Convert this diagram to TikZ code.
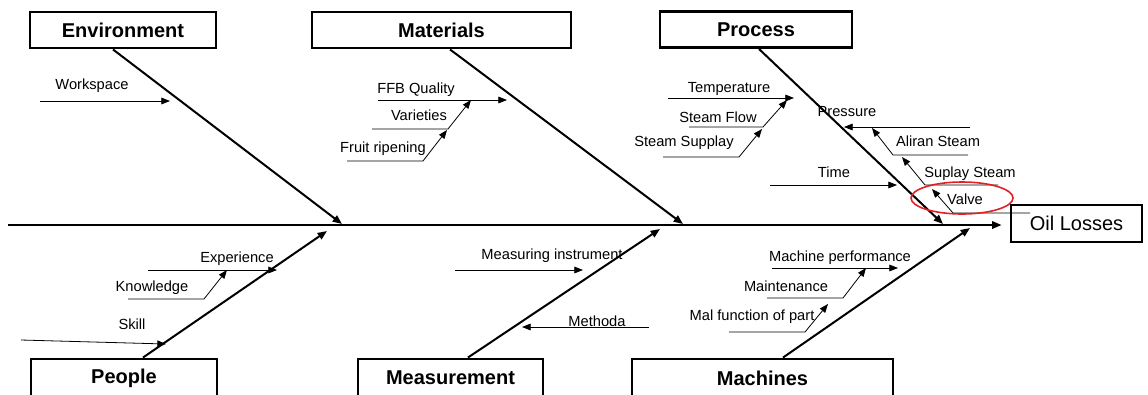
\documentclass[tikz,border=0pt]{standalone}
\usepackage{fontspec}
\setmainfont{Liberation Sans}
\usetikzlibrary{arrows.meta,shapes.geometric}
\definecolor{ringred}{RGB}{228,30,36}

\begin{document}
\begin{tikzpicture}[x=0.75pt, y=-0.75pt,
    head/.style = {draw, line width=2.2pt, inner sep=0pt, minimum height=27pt, font=\fontsize{15}{18}\selectfont\bfseries},
    cause/.style = {inner sep=0pt, anchor=base, font=\fontsize{11}{13}\selectfont},
    bone/.style = {line width=1.5pt, -{Triangle[length=7pt,width=5.5pt]}},
    twig/.style = {line width=0.6pt, -{Triangle[length=6.5pt,width=5pt]}}]
\useasboundingbox (0,0) rectangle (1148,394);

% category boxes
\node[head, minimum width=139.5pt] (env) at (123,30) {Environment};
\node[head, minimum width=194.25pt] (mat) at (441.5,30) {Materials};
\node[head, minimum width=144pt] (proc) at (756,29.5) {Process};
\node[head, minimum width=139.5pt, minimum height=28.5pt] (ppl) at (124,378) {People};
\node[head, minimum width=138.75pt, minimum height=28.5pt] (meas) at (450.5,378) {Measurement};
\node[head, minimum width=195.75pt, minimum height=28.5pt] (mach) at (762.5,378) {Machines};
\node[draw, line width=2.2pt, inner sep=0pt, minimum width=98.25pt, minimum height=27.75pt,
      font=\fontsize{15}{18}\selectfont] (oil) at (1076.5,223.5) {Oil Losses};

% spine
\coordinate (s0) at (8,225);
\draw[bone, shorten >=6pt] (s0) -- (s0 -| oil.west);

% main bones
\coordinate (e1) at (342,224);
\coordinate (m1) at (683,224);
\coordinate (p1) at (943,224);
\coordinate (pp1) at (327,231);
\coordinate (ms1) at (660,229);
\coordinate (mc1) at (970,228);
\draw[bone] ([xshift=-7.5pt]env.south) -- (e1);
\draw[bone] ([xshift=6.4pt]mat.south) -- (m1);
\draw[bone] ([xshift=2.25pt]proc.south) -- (p1);
\draw[bone] ([xshift=14.25pt]ppl.north) -- (pp1);
\draw[bone] ([xshift=13.1pt]meas.north) -- (ms1);
\draw[bone] ([xshift=15.4pt]mach.north) -- (mc1);

% Environment
\node[cause] (ws) at (92,89) {Workspace};
\draw[twig] (40,101) coordinate (ws0) -- (170,101) coordinate (ws1);

% Materials
\node[cause] (ffb) at (416,93) {FFB Quality};
\node[cause] (var) at (419,120) {Varieties};
\node[cause] (fr) at (383,152) {Fruit ripening};
\draw[twig] (378,100) coordinate (ffb0) -- (507,100) coordinate (ffb1);
\draw[twig] (372,129) coordinate (var0) -- (448,129) -- (471,100) coordinate (var1);
\draw[twig] (347,161) coordinate (fr0) -- (423,161) -- (447,130) coordinate (fr1);

% Process
\node[cause] (tmp) at (729,92) {Temperature};
\node[cause] (sf) at (718,122) {Steam Flow};
\node[cause] (ss) at (684,146) {Steam Supplay};
\node[cause] (prs) at (847,116) {Pressure};
\node[cause] (al) at (938,146) {Aliran Steam};
\node[cause] (sup) at (970,177) {Suplay Steam};
\node[cause] (vlv) at (965,204) {Valve};
\node[cause] (tm) at (834,177) {Time};
\draw[twig] (668,98) coordinate (tmp0) -- (794,98) coordinate (tmp1);
\draw[twig] (689,127) coordinate (sf0) -- (763,127) -- (787,100) coordinate (sf1);
\draw[twig] (663,157) coordinate (ss0) -- (739,157) -- (762,129) coordinate (ss1);
\draw[twig] (970,127) coordinate (prs0) -- (844,127) coordinate (prs1);
\draw[twig] (968,155) coordinate (al0) -- (893,155) -- (872,128) coordinate (al1);
\draw[twig] (998,185) coordinate (sup0) -- (925,185) -- (902,157) coordinate (sup1);
\draw[twig] (1030,213) coordinate (vlv0) -- (953,213) -- (932,189) coordinate (vlv1);
\draw[twig] (770,185) coordinate (tm0) -- (897,185) coordinate (tm1);
\node[draw=ringred, line width=1.2pt, ellipse, inner sep=0pt, minimum width=76.5pt, minimum height=24pt] (ring) at (962,198) {};

% People
\node[cause] (exp) at (237,262) {Experience};
\node[cause] (kn) at (152,291) {Knowledge};
\node[cause] (sk) at (132,329) {Skill};
\draw[twig] (148,270) coordinate (exp0) -- (277,270) coordinate (exp1);
\draw[twig] (128,299) coordinate (kn0) -- (204,299) -- (227,270) coordinate (kn1);
\draw[twig] (21,340) coordinate (sk0) -- (166,344) coordinate (sk1);

% Measurement
\node[cause] (mi) at (552,259) {Measuring instrument};
\node[cause] (mt) at (597,326) {Methoda};
\draw[twig] (455,270) coordinate (mi0) -- (583,270) coordinate (mi1);
\draw[twig] (649,327) coordinate (mt0) -- (522,327) coordinate (mt1);

% Machines
\node[cause] (mp) at (840,261) {Machine performance};
\node[cause] (mn) at (786,291) {Maintenance};
\node[cause] (mf) at (752,320) {Mal function of part};
\draw[twig] (772,268) coordinate (mp0) -- (898,268) coordinate (mp1);
\draw[twig] (767,298) coordinate (mn0) -- (843,298) -- (866,268) coordinate (mn1);
\draw[twig] (729,332) coordinate (mf0) -- (805,332) -- (828,304) coordinate (mf1);

\end{tikzpicture}
\end{document}
